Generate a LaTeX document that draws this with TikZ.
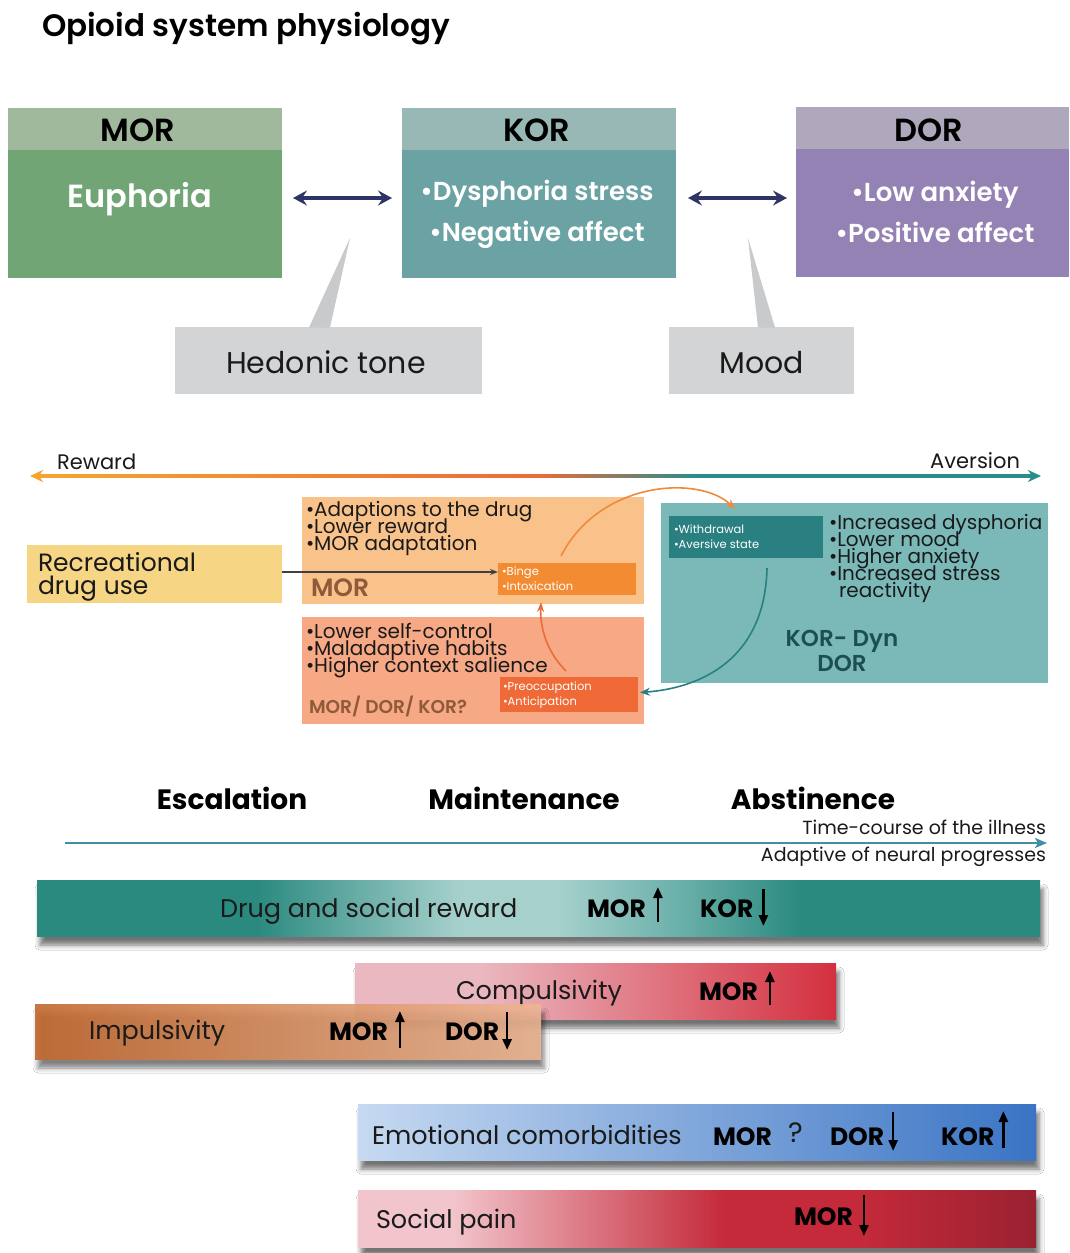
\documentclass[tikz,border=0pt]{standalone}
\usepackage{fontspec}
\setmainfont{Poppins}
\newfontfamily\popsemi{Poppins SemiBold}
\usetikzlibrary{arrows.meta,shadows.blur,calc}
\definecolor{morHead}{HTML}{A0B89C}
\definecolor{morBody}{HTML}{72A576}
\definecolor{korHead}{HTML}{98B8B6}
\definecolor{korBody}{HTML}{6BA3A5}
\definecolor{dorHead}{HTML}{AFA7BB}
\definecolor{dorBody}{HTML}{9582B4}
\definecolor{navy}{HTML}{2E3566}
\definecolor{grayBox}{HTML}{D3D4D6}
\definecolor{grayPtr}{HTML}{C9CACC}
\definecolor{recBox}{HTML}{F6D585}
\definecolor{morBox}{HTML}{F9C28A}
\definecolor{bingeBox}{HTML}{F38B32}
\definecolor{lowBox}{HTML}{F7A885}
\definecolor{preoBox}{HTML}{EF6A36}
\definecolor{korBox}{HTML}{7BB9B9}
\definecolor{withBox}{HTML}{2A7F80}
\definecolor{brownT}{HTML}{8E5A3A}
\definecolor{tealT}{HTML}{1D4F50}
\definecolor{timeC}{HTML}{3E90A4}
\definecolor{ora}{HTML}{F4A530}
\definecolor{redo}{HTML}{EE6B35}
\definecolor{tealc}{HTML}{2B8C8C}
\definecolor{arrOr}{HTML}{F08A3A}
\definecolor{arrRd}{HTML}{EE6A3A}
\definecolor{drugT}{HTML}{2B8A80}
\definecolor{drugM}{HTML}{6BB0AA}
\definecolor{drugL}{HTML}{A6D0CC}
\definecolor{compL}{HTML}{EAB8C0}
\definecolor{compR}{HTML}{D4303F}
\definecolor{impL}{HTML}{C2682E}
\definecolor{impR}{HTML}{EDB694}
\definecolor{emoL}{HTML}{C6D9F1}
\definecolor{emoR}{HTML}{3A74C4}
\definecolor{socL}{HTML}{F2C4CB}
\definecolor{socM}{HTML}{C42A3A}
\definecolor{socR}{HTML}{9A2131}
\definecolor{txt}{HTML}{1A1A1A}
\pgfdeclarehorizontalshading{drugshade}{100bp}{color(0bp)=(drugT); color(25bp)=(drugT); color(36bp)=(drugT); color(46bp)=(drugL); color(51bp)=(drugL); color(57bp)=(drugM); color(63bp)=(drugT); color(100bp)=(drugT)}
\pgfdeclarehorizontalshading{socshade}{100bp}{color(0bp)=(socL); color(25bp)=(socL); color(32bp)=(socL); color(52bp)=(socM); color(62bp)=(socM); color(75bp)=(socR); color(100bp)=(socR)}
\pgfdeclarehorizontalshading{compshade}{100bp}{color(0bp)=(compL); color(25bp)=(compL); color(38bp)=(compL); color(75bp)=(compR); color(100bp)=(compR)}
\pgfdeclarehorizontalshading{rwshade}{100bp}{color(0bp)=(ora); color(25bp)=(ora); color(50bp)=(redo); color(58bp)=(tealc); color(75bp)=(tealc); color(100bp)=(tealc)}
\begin{document}
\begin{tikzpicture}[x=1pt,y=-1pt,
  every node/.style={inner sep=0pt,outer sep=0pt},
  sz/.style 2 args={minimum width=#1,minimum height=#2,anchor=north west,rectangle},
  hdr/.style={anchor=base,font=\fontsize{32}{32}\selectfont\popsemi,text=black},
  wtxt/.style={anchor=base,font=\fontsize{26}{27}\selectfont\popsemi,text=white},
  bul/.style={anchor=base west,font=\fontsize{20}{20}\selectfont,text=txt},
  tiny/.style={anchor=base west,font=\fontsize{11.5}{12}\selectfont,text=white},
  dbl/.style={navy,line width=3.6pt,{Stealth[length=14pt,width=15pt,inset=5pt]}-{Stealth[length=14pt,width=15pt,inset=5pt]}},
  bar/.style={blur shadow={shadow xshift=3pt,shadow yshift=-9pt,shadow blur radius=5pt,shadow opacity=55}},
  bartxt/.style={anchor=base west,font=\fontsize{25.5}{26}\selectfont,text=txt},
  rtxt/.style={anchor=base west,font=\fontsize{25}{25}\selectfont\bfseries,text=black},
  vup/.style={line width=2.6pt,-{Triangle[length=11pt,width=9pt]}},
  stage/.style={anchor=base,font=\fontsize{28}{28}\selectfont\bfseries,text=black},
  small/.style={font=\fontsize{19}{19}\selectfont,text=txt}]
\useasboundingbox (0,0) rectangle (1069,1253);
\fill[white] (0,0) rectangle (1069,1253);

% title
\node[anchor=base west,font=\fontsize{31}{31}\selectfont\popsemi] (title) at (42,36) {Opioid system physiology};

% top receptor boxes
\node[sz={274}{42},fill=morHead] (morh) at (8,108) {};
\node[sz={274}{128},fill=morBody] (morb) at (8,150) {};
\node[hdr] (mort) at ($(morh.south)+(-7,-9)$) {MOR};
\node[wtxt,font=\fontsize{32}{32}\selectfont\popsemi] (eup) at (140,207) {Euphoria};

\node[sz={274}{42},fill=korHead] (korh) at (402,108) {};
\node[sz={274}{128},fill=korBody] (korb) at (402,150) {};
\node[hdr] (kort) at ($(korh.south)+(-2,-9)$) {KOR};
\node[wtxt] (kor1) at (537,200) {•Dysphoria stress};
\node[wtxt] (kor2) at (537,241) {•Negative affect};

\node[sz={273}{42},fill=dorHead] (dorh) at (796,107) {};
\node[sz={273}{128},fill=dorBody] (dorb) at (796,149) {};
\node[hdr] (dort) at ($(dorh.south)+(-4,-8)$) {DOR};
\node[wtxt] (dor1) at (935,201) {•Low anxiety};
\node[wtxt] (dor2) at (935,242) {•Positive affect};

\draw[dbl] ($(morb.east)+(11,-16)$) -- ($(korb.west)+(-10,-16)$);
\draw[dbl] ($(korb.east)+(12,-16)$) -- ($(dorb.west)+(-9,-15)$);

% hedonic tone / mood
\node[sz={307}{67},fill=grayBox] (hed) at (175,327) {};
\node[anchor=base,font=\fontsize{30}{30}\selectfont,text=txt] (hedt) at (326,373) {Hedonic tone};
\coordinate (hedtip) at (350,238);
\fill[grayPtr] ($(hed.north west)+(134,0.5)$) -- (hedtip) -- ($(hed.north west)+(155,0.5)$) -- cycle;

\node[sz={185}{67},fill=grayBox] (mood) at (669,327) {};
\node[anchor=base,font=\fontsize{30}{30}\selectfont,text=txt] (moodt) at (762,373) {Mood};
\coordinate (moodtip) at (748,238);
\fill[grayPtr] ($(mood.north west)+(89,0.5)$) -- (moodtip) -- ($(mood.north west)+(106,0.5)$) -- cycle;

% reward / aversion axis
\coordinate (rwL) at (30,476);
\coordinate (rwR) at (1041,476);
\shade[shading=rwshade] ($(rwL)+(10,-1.3)$) rectangle ($(rwR)+(-10,1.3)$);
\draw[ora,line width=2.6pt,-{Stealth[length=13pt,width=12pt,inset=4pt]}] ($(rwL)+(16,0)$) -- (rwL);
\draw[tealc,line width=2.6pt,-{Stealth[length=13pt,width=12pt,inset=4pt]}] ($(rwR)+(-16,0)$) -- (rwR);
\node[anchor=base west,font=\fontsize{21}{21}\selectfont,text=txt] (rew) at (57,469) {Reward};
\node[anchor=base east,font=\fontsize{21}{21}\selectfont,text=txt] (ave) at (1020,468) {Aversion};

% middle boxes
\node[sz={255}{58},fill=recBox] (rec) at (27,545) {};
\node[anchor=base west,font=\fontsize{25}{25}\selectfont,text=txt] (rec1) at (38,571) {Recreational};
\node[anchor=base west,font=\fontsize{25}{25}\selectfont,text=txt] (rec2) at (38,594) {drug use};

\node[sz={342}{107},fill=morBox] (mbox) at (302,497) {};
\node[bul] (mb1) at (306,516) {•Adaptions to the drug};
\node[bul] (mb2) at (306,533) {•Lower reward};
\node[bul] (mb3) at (306,550) {•MOR adaptation};
\node[anchor=base west,font=\fontsize{25}{25}\selectfont\popsemi,text=brownT] (mblab) at (311,596) {MOR};
\node[sz={138}{32},fill=bingeBox] (binge) at (498,563) {};
\node[tiny] (bi1) at (502,575) {•Binge};
\node[tiny] (bi2) at (502,590) {•Intoxication};

\node[sz={342}{107},fill=lowBox] (lbox) at (302,617) {};
\node[bul] (lb1) at (306,638) {•Lower self-control};
\node[bul] (lb2) at (306,655) {•Maladaptive habits};
\node[bul] (lb3) at (306,672) {•Higher context salience};
\node[anchor=base west,font=\fontsize{18.5}{19}\selectfont\popsemi,text=brownT] (lblab) at (309,713) {MOR/ DOR/ KOR?};
\node[sz={138}{35},fill=preoBox] (preo) at (500,677) {};
\node[tiny] (pr1) at (503,690) {•Preoccupation};
\node[tiny] (pr2) at (503,705) {•Anticipation};

\node[sz={387}{180},fill=korBox] (kbox) at (661,503) {};
\node[sz={154}{42},fill=withBox] (withd) at (669,516) {};
\node[tiny] (wi1) at (674,533) {•Withdrawal};
\node[tiny] (wi2) at (674,548) {•Aversive state};
\node[bul] (kb1) at (829,529) {•Increased dysphoria};
\node[bul] (kb2) at (829,546) {•Lower mood};
\node[bul] (kb3) at (829,563) {•Higher anxiety};
\node[bul] (kb4) at (829,580) {•Increased stress};
\node[bul] (kb5) at (839,597) {reactivity};
\node[anchor=base,font=\fontsize{23}{24}\selectfont\popsemi,text=tealT] (kd1) at (842,646) {KOR- Dyn};
\node[anchor=base,font=\fontsize{23}{24}\selectfont\popsemi,text=tealT] (kd2) at (842,671) {DOR};

% connectors in middle
\draw[black!75,line width=1.3pt,-{Stealth[length=8pt,width=6pt]}] (rec.east |- 0,572) -- (binge.west |- 0,572);
\draw[arrOr,line width=1.6pt,-{Stealth[length=10pt,width=8pt]}] ($(binge.north)+(-6,-7)$) .. controls (600,480) and (700,475) .. ($(kbox.north west)+(74,6)$);
\draw[arrRd,line width=1.6pt,-{Stealth[length=10pt,width=7pt]}] ($(preo.north)+(-3,-6)$) .. controls (545,650) and (540,625) .. ($(binge.south)+(-26,7)$);
\draw[withBox,line width=1.6pt,-{Stealth[length=10pt,width=8pt]}] ($(withd.south)+(21,10)$) .. controls (765,660) and (700,688) .. ($(preo.east)+(2,-2)$);

% stages and time course
\node[stage] (esc) at (232,809) {Escalation};
\node[stage] (mai) at (524,809) {Maintenance};
\node[stage] (abs) at (813,809) {Abstinence};
\coordinate (tl1) at (65,843);
\coordinate (tl2) at (1047,843);
\draw[timeC,line width=2pt,-{Stealth[length=12pt,width=10pt,inset=3pt]}] (tl1) -- (tl2);
\node[small,anchor=base east] (tc1) at (1046,834) {Time-course of the illness};
\node[small,anchor=base east] (tc2) at (1046,861) {Adaptive of neural progresses};

% bars
\node[sz={1003}{56},shading=drugshade,bar] (drug) at (37,880) {};
\node[bartxt] (drugt) at (220,917) {Drug and social reward};
\node[rtxt] (dm) at (587,917) {MOR};
\draw[vup] ($(dm.base east)+(12,5)$) -- ++(0,-35);
\node[rtxt] (dk) at (700,917) {KOR};
\draw[vup] ($(dk.base east)+(10,-28)$) -- ++(0,37);

\node[sz={481}{56},shading=compshade,bar] (comp) at (355,963) {};
\node[bartxt] (compt) at (456,999) {Compulsivity};
\node[rtxt] (cm) at (699,1000) {MOR};
\draw[vup] ($(cm.base east)+(12,5)$) -- ++(0,-34);

\node[sz={506}{55},left color=impL,right color=impR,bar,fill opacity=0.9] (imp) at (35,1004) {};
\node[bartxt] (impt) at (89,1039) {Impulsivity};
\node[rtxt] (im) at (329,1040) {MOR};
\draw[vup] ($(im.base east)+(12,8)$) -- ++(0,-37);
\node[rtxt] (id) at (445,1040) {DOR};
\draw[vup] ($(id.base east)+(8,-28)$) -- ++(0,38);

\node[sz={678}{56},left color=emoL,right color=emoR,bar] (emo) at (358,1104) {};
\node[bartxt] (emot) at (372,1144) {Emotional comorbidities};
\node[rtxt] (em) at (713,1145) {MOR};
\node[anchor=base west,font=\fontsize{28}{28}\selectfont,text=txt] (eq) at (788,1142) {?};
\node[rtxt] (ed) at (830,1145) {DOR};
\draw[vup] ($(ed.base east)+(9,-33)$) -- ++(0,39);
\node[rtxt] (ek) at (941,1145) {KOR};
\draw[vup] ($(ek.base east)+(9,3)$) -- ++(0,-37);

\node[sz={678}{57},shading=socshade,bar] (soc) at (358,1190) {};
\node[bartxt] (soct) at (376,1228) {Social pain};
\node[rtxt] (sm) at (794,1225) {MOR};
\draw[vup] ($(sm.base east)+(11,-30)$) -- ++(0,41);
\end{tikzpicture}
\end{document}
